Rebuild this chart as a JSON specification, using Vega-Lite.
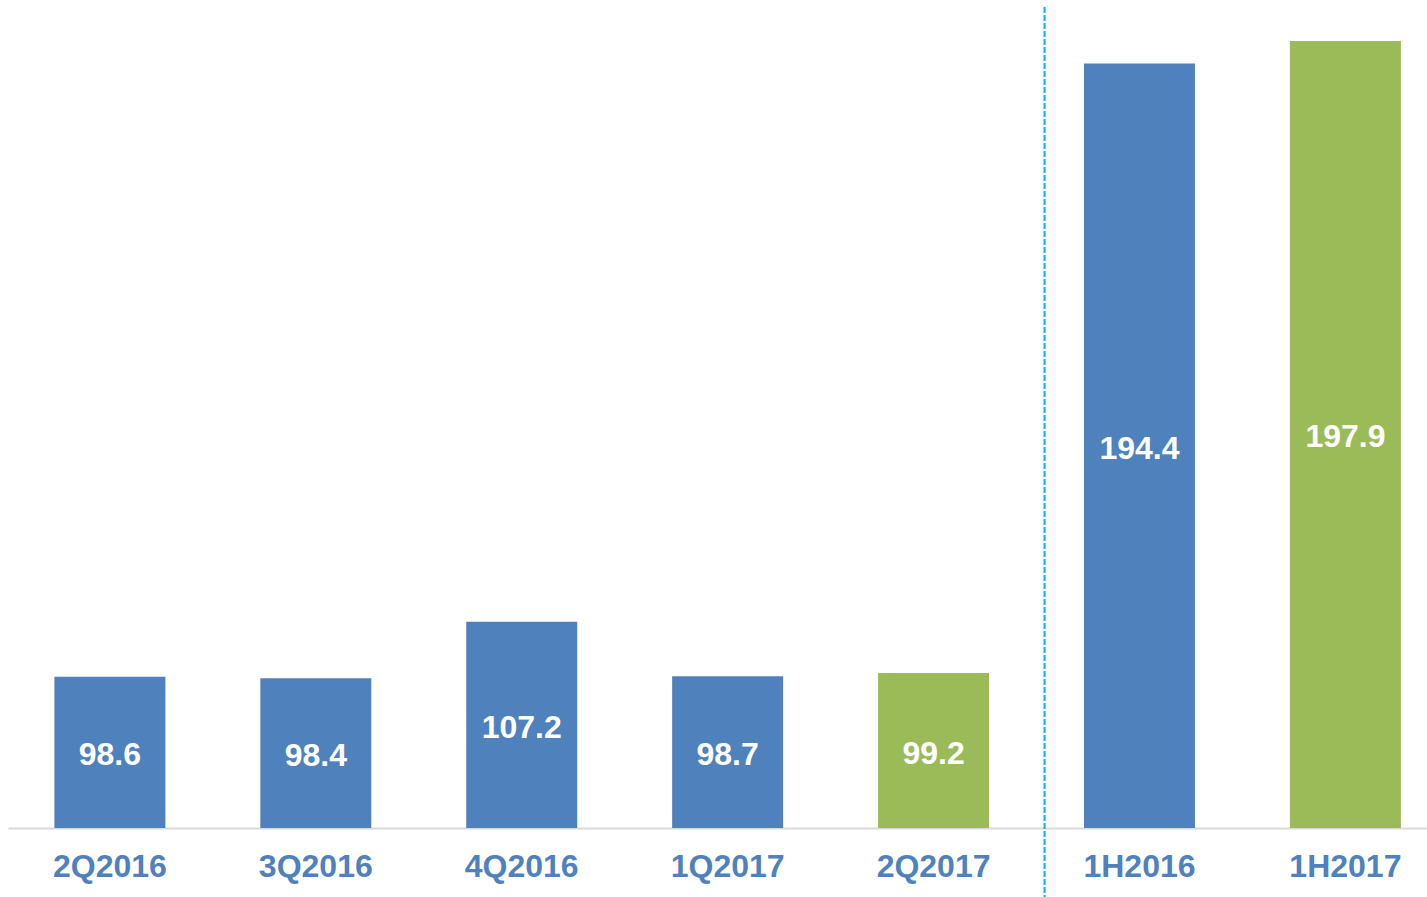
{
  "$schema": "https://vega.github.io/schema/vega-lite/v6.json",
  "width": 1419,
  "height": 828,
  "autosize": "none",
  "padding": {"left": 8, "top": 0, "right": 0, "bottom": 69},
  "background": "white",
  "config": {"view": {"stroke": null}, "font": "Liberation Sans"},
  "datasets": {
    "bars": [
      {"period": "2Q2016", "value": 98.6, "group": "prior"},
      {"period": "3Q2016", "value": 98.4, "group": "prior"},
      {"period": "4Q2016", "value": 107.2, "group": "prior"},
      {"period": "1Q2017", "value": 98.7, "group": "prior"},
      {"period": "2Q2017", "value": 99.2, "group": "current"},
      {"period": "1H2016", "value": 194.4, "group": "prior"},
      {"period": "1H2017", "value": 197.9, "group": "current"}
    ],
    "divider": [
      {"period": "2Q2017", "top": 203.2, "bottom": 64.2}
    ]
  },
  "layer": [
    {
      "data": {"name": "bars"},
      "mark": {"type": "bar"},
      "encoding": {
        "x": {
          "field": "period", "type": "nominal", "sort": null,
          "scale": {"paddingInner": 0.461, "paddingOuter": 0.176, "align": 0.64},
          "axis": {
            "title": null, "labelAngle": 0, "ticks": false,
            "labelFont": "Liberation Sans", "labelFontWeight": "bold", "labelFontSize": 32,
            "labelColor": "#4f81bd", "labelPadding": 23,
            "domainColor": "#d9d9d9", "domainWidth": 2
          }
        },
        "y": {
          "field": "value", "type": "quantitative",
          "scale": {"domain": [75, 204.3], "nice": false, "zero": false},
          "axis": null
        },
        "y2": {"datum": 75},
        "color": {
          "field": "group", "type": "nominal",
          "scale": {"domain": ["prior", "current"], "range": ["#4f81bd", "#9bbb59"]},
          "legend": null
        }
      }
    },
    {
      "data": {"name": "bars"},
      "transform": [{"calculate": "(datum.value + 75) / 2", "as": "mid"}],
      "mark": {"type": "text", "color": "white", "font": "Liberation Sans", "fontWeight": "bold", "fontSize": 32, "baseline": "middle", "align": "center", "dy": 3},
      "encoding": {
        "x": {"field": "period", "type": "nominal", "sort": null},
        "y": {"field": "mid", "type": "quantitative"},
        "text": {"field": "value", "type": "quantitative", "format": ".1f"}
      }
    },
    {
      "data": {"name": "divider"},
      "mark": {"type": "rule", "color": "#00b0f0", "strokeWidth": 2, "strokeDash": [6, 2]},
      "encoding": {
        "x": {"field": "period", "type": "nominal", "sort": null, "bandPosition": 1.5},
        "y": {"field": "top", "type": "quantitative"},
        "y2": {"field": "bottom"}
      }
    }
  ]
}
